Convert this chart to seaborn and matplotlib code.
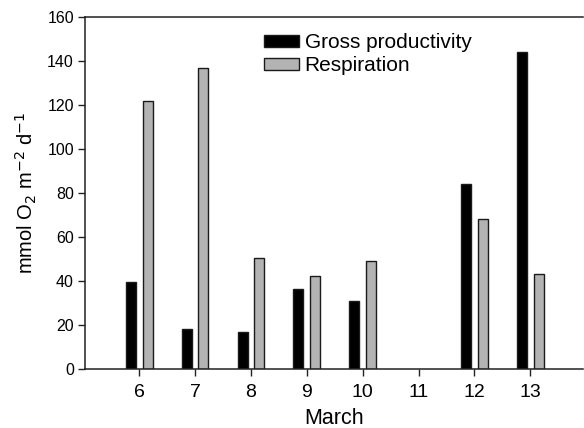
import matplotlib
matplotlib.use("Agg")
import matplotlib.pyplot as plt
import numpy as np
import pandas as pd
import seaborn as sns

# Daily oxygen budget, March
days = ["6", "7", "8", "9", "10", "11", "12", "13"]
gross_productivity = [39.5, 18, 17, 36.5, 31, np.nan, 84, 144]
respiration = [122, 137, 50.5, 42.5, 49, np.nan, 68, 43]
series_names = ["Gross productivity", "Respiration"]
y_ticks = [0, 20, 40, 60, 80, 100, 120, 140, 160]

df = pd.DataFrame({
    "day": days * 2,
    "value": gross_productivity + respiration,
    "series": [series_names[0]] * len(days) + [series_names[1]] * len(days),
})

sns.set_theme(style="ticks")
plt.rcParams["font.family"] = ["Liberation Sans", "DejaVu Sans"]
plt.rcParams["text.color"] = "black"
plt.rcParams["axes.labelcolor"] = "black"

fig = plt.figure(figsize=(5.84, 4.28), dpi=100)
ax = fig.add_axes([85 / 584, 1 - 369 / 428, 1 - 85 / 584 - 0.001, (369 - 17) / 428])

sns.barplot(
    data=df, x="day", y="value", hue="series", order=days, hue_order=series_names,
    palette={series_names[0]: "black", series_names[1]: "#b3b3b3"},
    width=0.6, gap=0.4, errorbar=None, edgecolor="#1a1a1a", linewidth=1.0,
    saturation=1, ax=ax,
)

ax.set_ylim(0, 160)
ax.set_yticks(y_ticks)
ax.set_xlim(-0.97, 7.95)

for side in ("left", "top", "bottom"):
    ax.spines[side].set_visible(True)
    ax.spines[side].set_color("#222222")
    ax.spines[side].set_linewidth(1.1)
ax.spines["right"].set_visible(False)

ax.tick_params(axis="y", labelsize=11.5, length=5, width=1, color="#222222",
               labelcolor="black", pad=3)
ax.tick_params(axis="x", labelsize=14, length=5, width=1, color="#222222",
               labelcolor="black", pad=6)

ax.set_xlabel("March", fontsize=15.5, labelpad=5)
ax.set_ylabel("mmol O$_2$ m$^{-2}$ d$^{-1}$", fontsize=14.5, labelpad=6)

leg = ax.legend(
    loc="upper left", bbox_to_anchor=(264 / 584, 1 - 33 / 428), bbox_transform=fig.transFigure,
    frameon=False, fontsize=15, borderpad=0, borderaxespad=0,
    handlelength=1.7, handleheight=0.5, handletextpad=0.25, labelspacing=0.2,
)

fig.savefig("out.png", dpi=100)
